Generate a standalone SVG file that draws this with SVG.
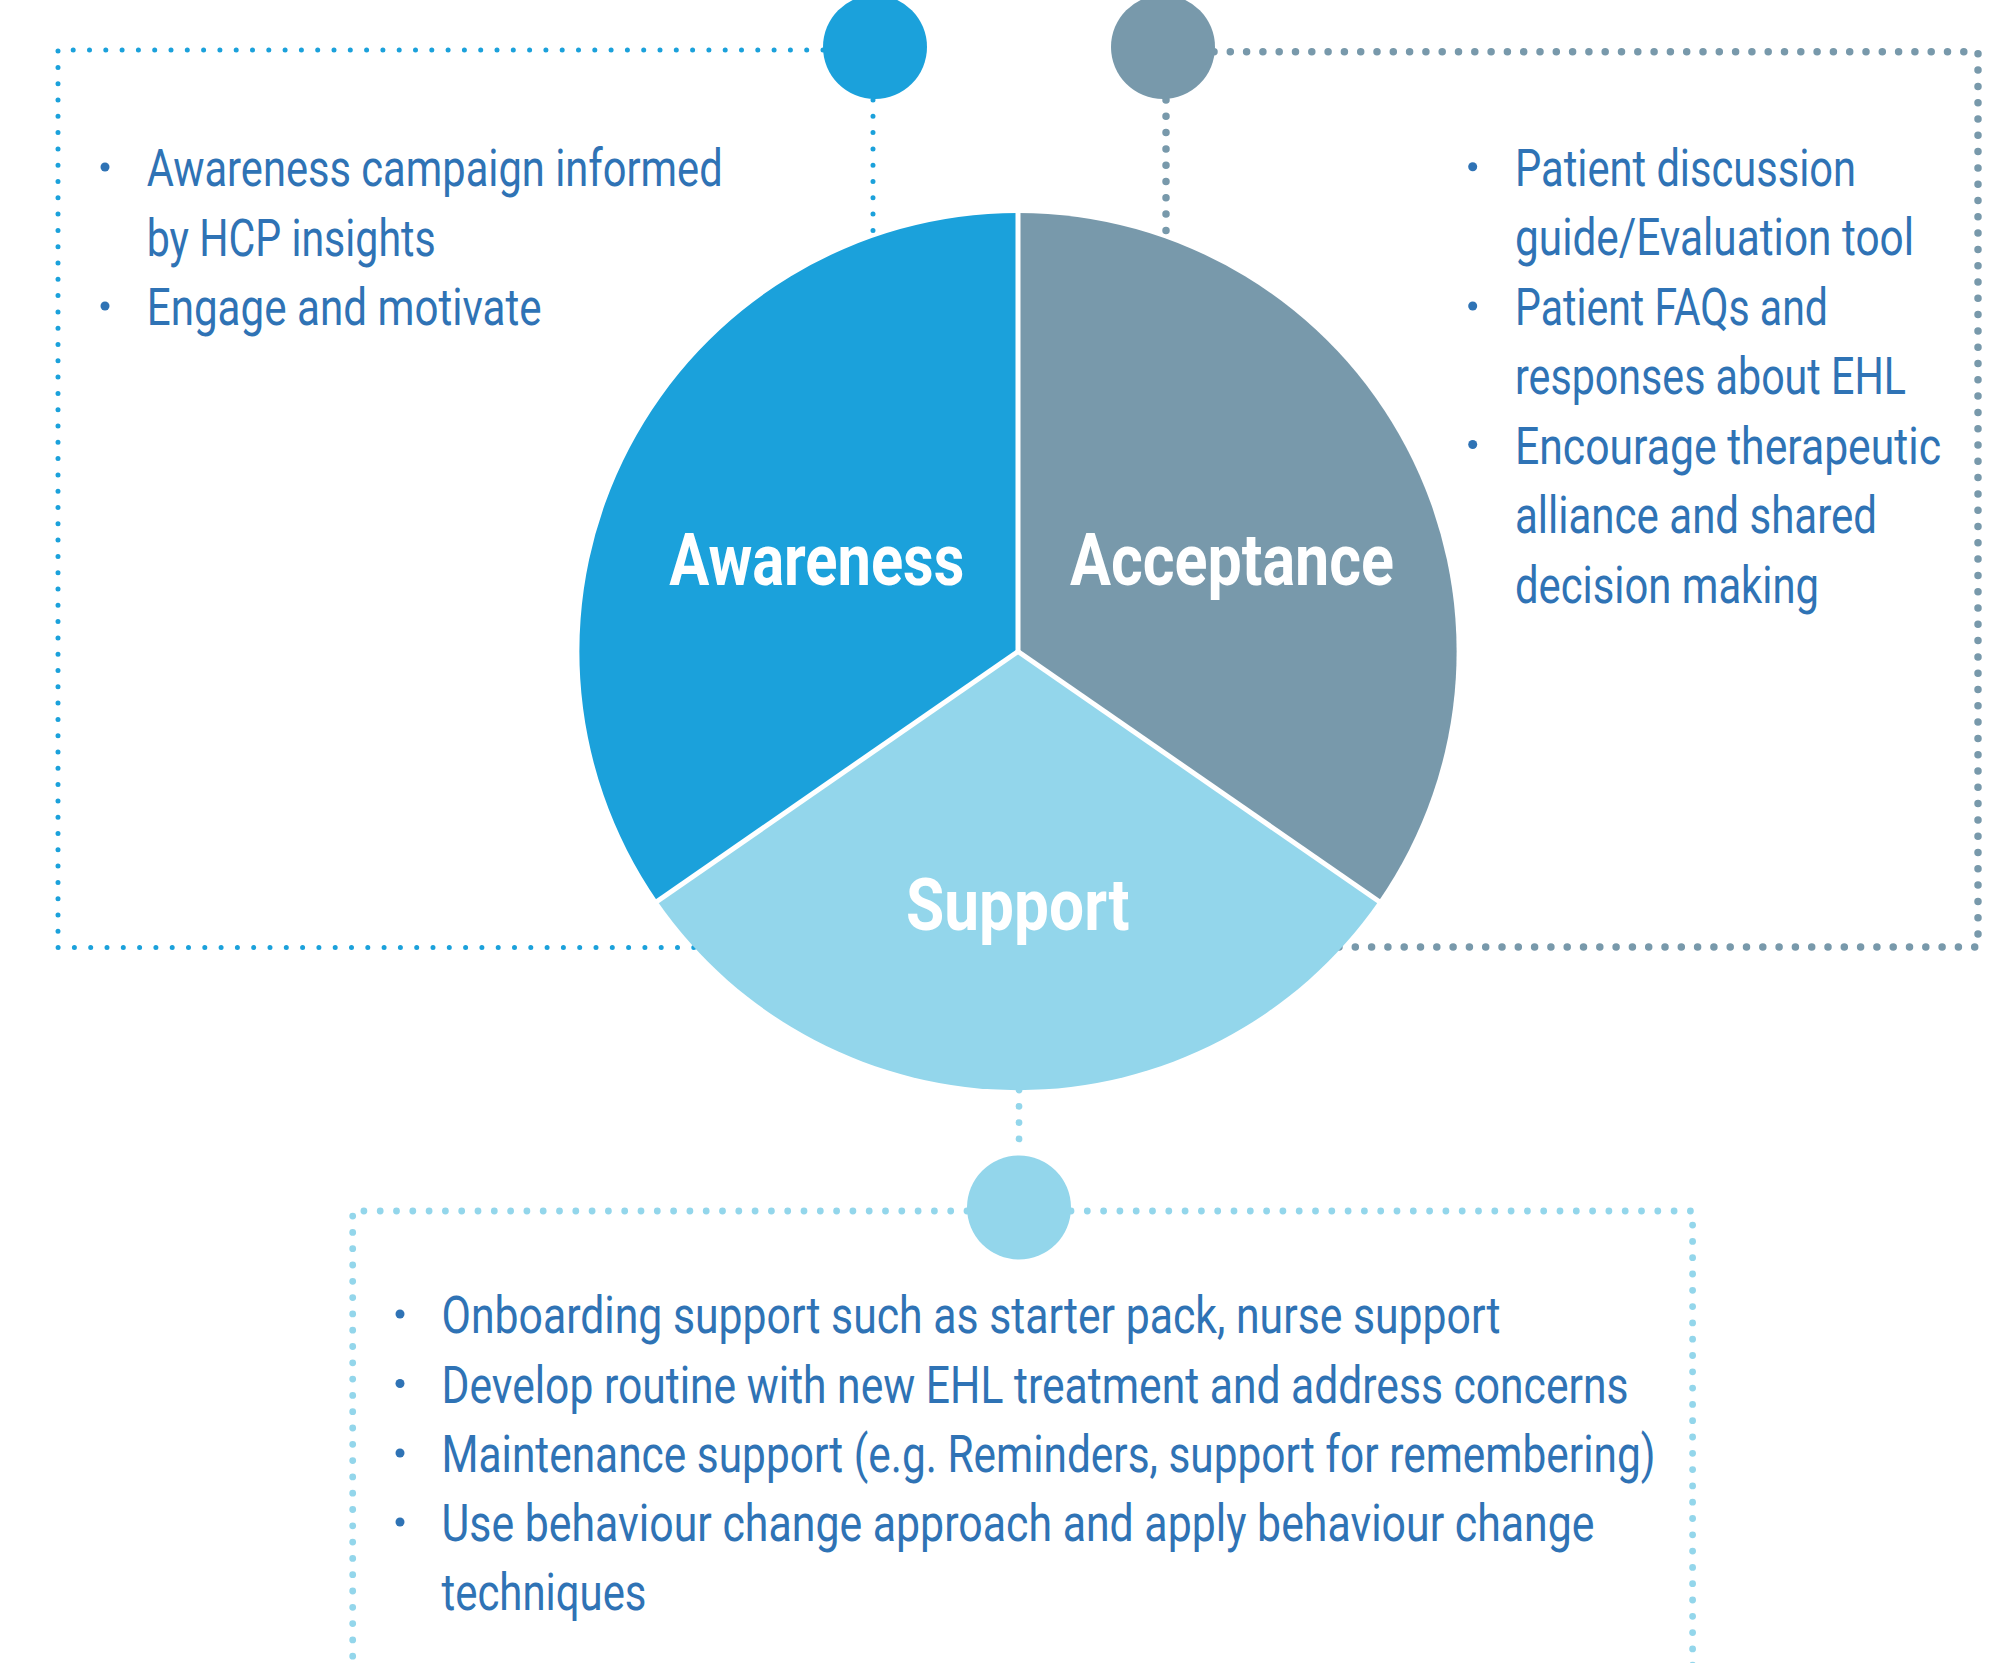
<svg xmlns="http://www.w3.org/2000/svg" width="1999" height="1663" viewBox="0 0 1999 1663">
  <style>
    .dots { fill: none; stroke-linecap: round; stroke-dasharray: 0 16.3; }
    .d-aw { stroke: #1ba1db; stroke-width: 5; }
    .d-ac { stroke: #7899ab; stroke-width: 7.5; }
    .d-su { stroke: #93d6eb; stroke-width: 6.8; }
    .item { font-family: Roboto, "Liberation Sans", sans-serif; font-size: 52px; fill: #2f73b5; }
    .label { font-family: Roboto, "Liberation Sans", sans-serif; font-size: 72px; font-weight: 700; fill: #ffffff; }
    .bullet { fill: #2f73b5; }
    .divider { stroke: #ffffff; stroke-width: 5; }
  </style>
  <rect width="1999" height="1663" fill="#ffffff"/>

  <!-- dotted connectors and frames -->
  <g id="connectors">
    <path class="dots d-aw" d="M823 50 H58 V947.5 H700"/>
    <path class="dots d-aw" d="M873 100 V245"/>
    <path class="dots d-ac" d="M1214 51.7 H1978 V947 H1330"/>
    <path class="dots d-ac" d="M1166 100 V245"/>
    <path class="dots d-su" d="M1019 1090 V1155"/>
    <path class="dots d-su" d="M967 1211 H352.7 V1680"/>
    <path class="dots d-su" d="M1071 1211 H1692.6 V1680"/>
  </g>

  <!-- central pie -->
  <g id="pie">
    <path id="awareness-sector" fill="#1ba1db" d="M1018 651.5 L657.4 901.2 A438.6 438.6 0 0 1 1018 212.9 Z"/>
    <path id="acceptance-sector" fill="#7899ab" d="M1018 651.5 L1018 212.9 A438.6 438.6 0 0 1 1378.6 901.2 Z"/>
    <path id="support-sector" fill="#93d6eb" d="M1018 651.5 L1378.6 901.2 A438.6 438.6 0 0 1 657.4 901.2 Z"/>
    <line class="divider" x1="1018" y1="651.5" x2="1018" y2="208"/>
    <line class="divider" x1="1018" y1="651.5" x2="1382.7" y2="904"/>
    <line class="divider" x1="1018" y1="651.5" x2="653.3" y2="904"/>
    <text class="label" x="669.3" y="585" textLength="295" lengthAdjust="spacingAndGlyphs">Awareness</text>
    <text class="label" x="1070" y="585" textLength="324" lengthAdjust="spacingAndGlyphs">Acceptance</text>
    <text class="label" x="906" y="930" textLength="223.5" lengthAdjust="spacingAndGlyphs">Support</text>
  </g>

  <!-- Awareness node -->
  <g id="awareness-node">
    <circle cx="875" cy="47" r="52" fill="#1ba1db"/>
    <circle class="bullet" cx="105" cy="167" r="4.5"/>
    <circle class="bullet" cx="105" cy="306" r="4.5"/>
    <text class="item" x="146.7" y="186" textLength="576" lengthAdjust="spacingAndGlyphs">Awareness campaign informed</text>
    <text class="item" x="146.7" y="255.5" textLength="289" lengthAdjust="spacingAndGlyphs">by HCP insights</text>
    <text class="item" x="146.7" y="325" textLength="395" lengthAdjust="spacingAndGlyphs">Engage and motivate</text>
  </g>

  <!-- Acceptance node -->
  <g id="acceptance-node">
    <circle cx="1163" cy="47" r="52" fill="#7899ab"/>
    <circle class="bullet" cx="1472.7" cy="166.7" r="4.5"/>
    <circle class="bullet" cx="1472.7" cy="306" r="4.5"/>
    <circle class="bullet" cx="1472.7" cy="444.5" r="4.5"/>
    <text class="item" x="1515" y="185.7" textLength="341" lengthAdjust="spacingAndGlyphs">Patient discussion</text>
    <text class="item" x="1515" y="255" textLength="399" lengthAdjust="spacingAndGlyphs">guide/Evaluation tool</text>
    <text class="item" x="1515" y="325" textLength="313" lengthAdjust="spacingAndGlyphs">Patient FAQs and</text>
    <text class="item" x="1515" y="394.3" textLength="391" lengthAdjust="spacingAndGlyphs">responses about EHL</text>
    <text class="item" x="1515" y="463.5" textLength="426" lengthAdjust="spacingAndGlyphs">Encourage therapeutic</text>
    <text class="item" x="1515" y="533" textLength="362" lengthAdjust="spacingAndGlyphs">alliance and shared</text>
    <text class="item" x="1515" y="602.5" textLength="304" lengthAdjust="spacingAndGlyphs">decision making</text>
  </g>

  <!-- Support node -->
  <g id="support-node">
    <circle cx="1019" cy="1207.5" r="52" fill="#93d6eb"/>
    <circle class="bullet" cx="400" cy="1314" r="4.5"/>
    <circle class="bullet" cx="400" cy="1383.5" r="4.5"/>
    <circle class="bullet" cx="400" cy="1453" r="4.5"/>
    <circle class="bullet" cx="400" cy="1522" r="4.5"/>
    <text class="item" x="441.5" y="1333.3" textLength="1059" lengthAdjust="spacingAndGlyphs">Onboarding support such as starter pack, nurse support</text>
    <text class="item" x="441.5" y="1402.5" textLength="1187" lengthAdjust="spacingAndGlyphs">Develop routine with new EHL treatment and address concerns</text>
    <text class="item" x="441.5" y="1471.7" textLength="1214" lengthAdjust="spacingAndGlyphs">Maintenance support (e.g. Reminders, support for remembering)</text>
    <text class="item" x="441.5" y="1541" textLength="1153" lengthAdjust="spacingAndGlyphs">Use behaviour change approach and apply behaviour change</text>
    <text class="item" x="441.5" y="1610" textLength="205" lengthAdjust="spacingAndGlyphs">techniques</text>
  </g>
</svg>
